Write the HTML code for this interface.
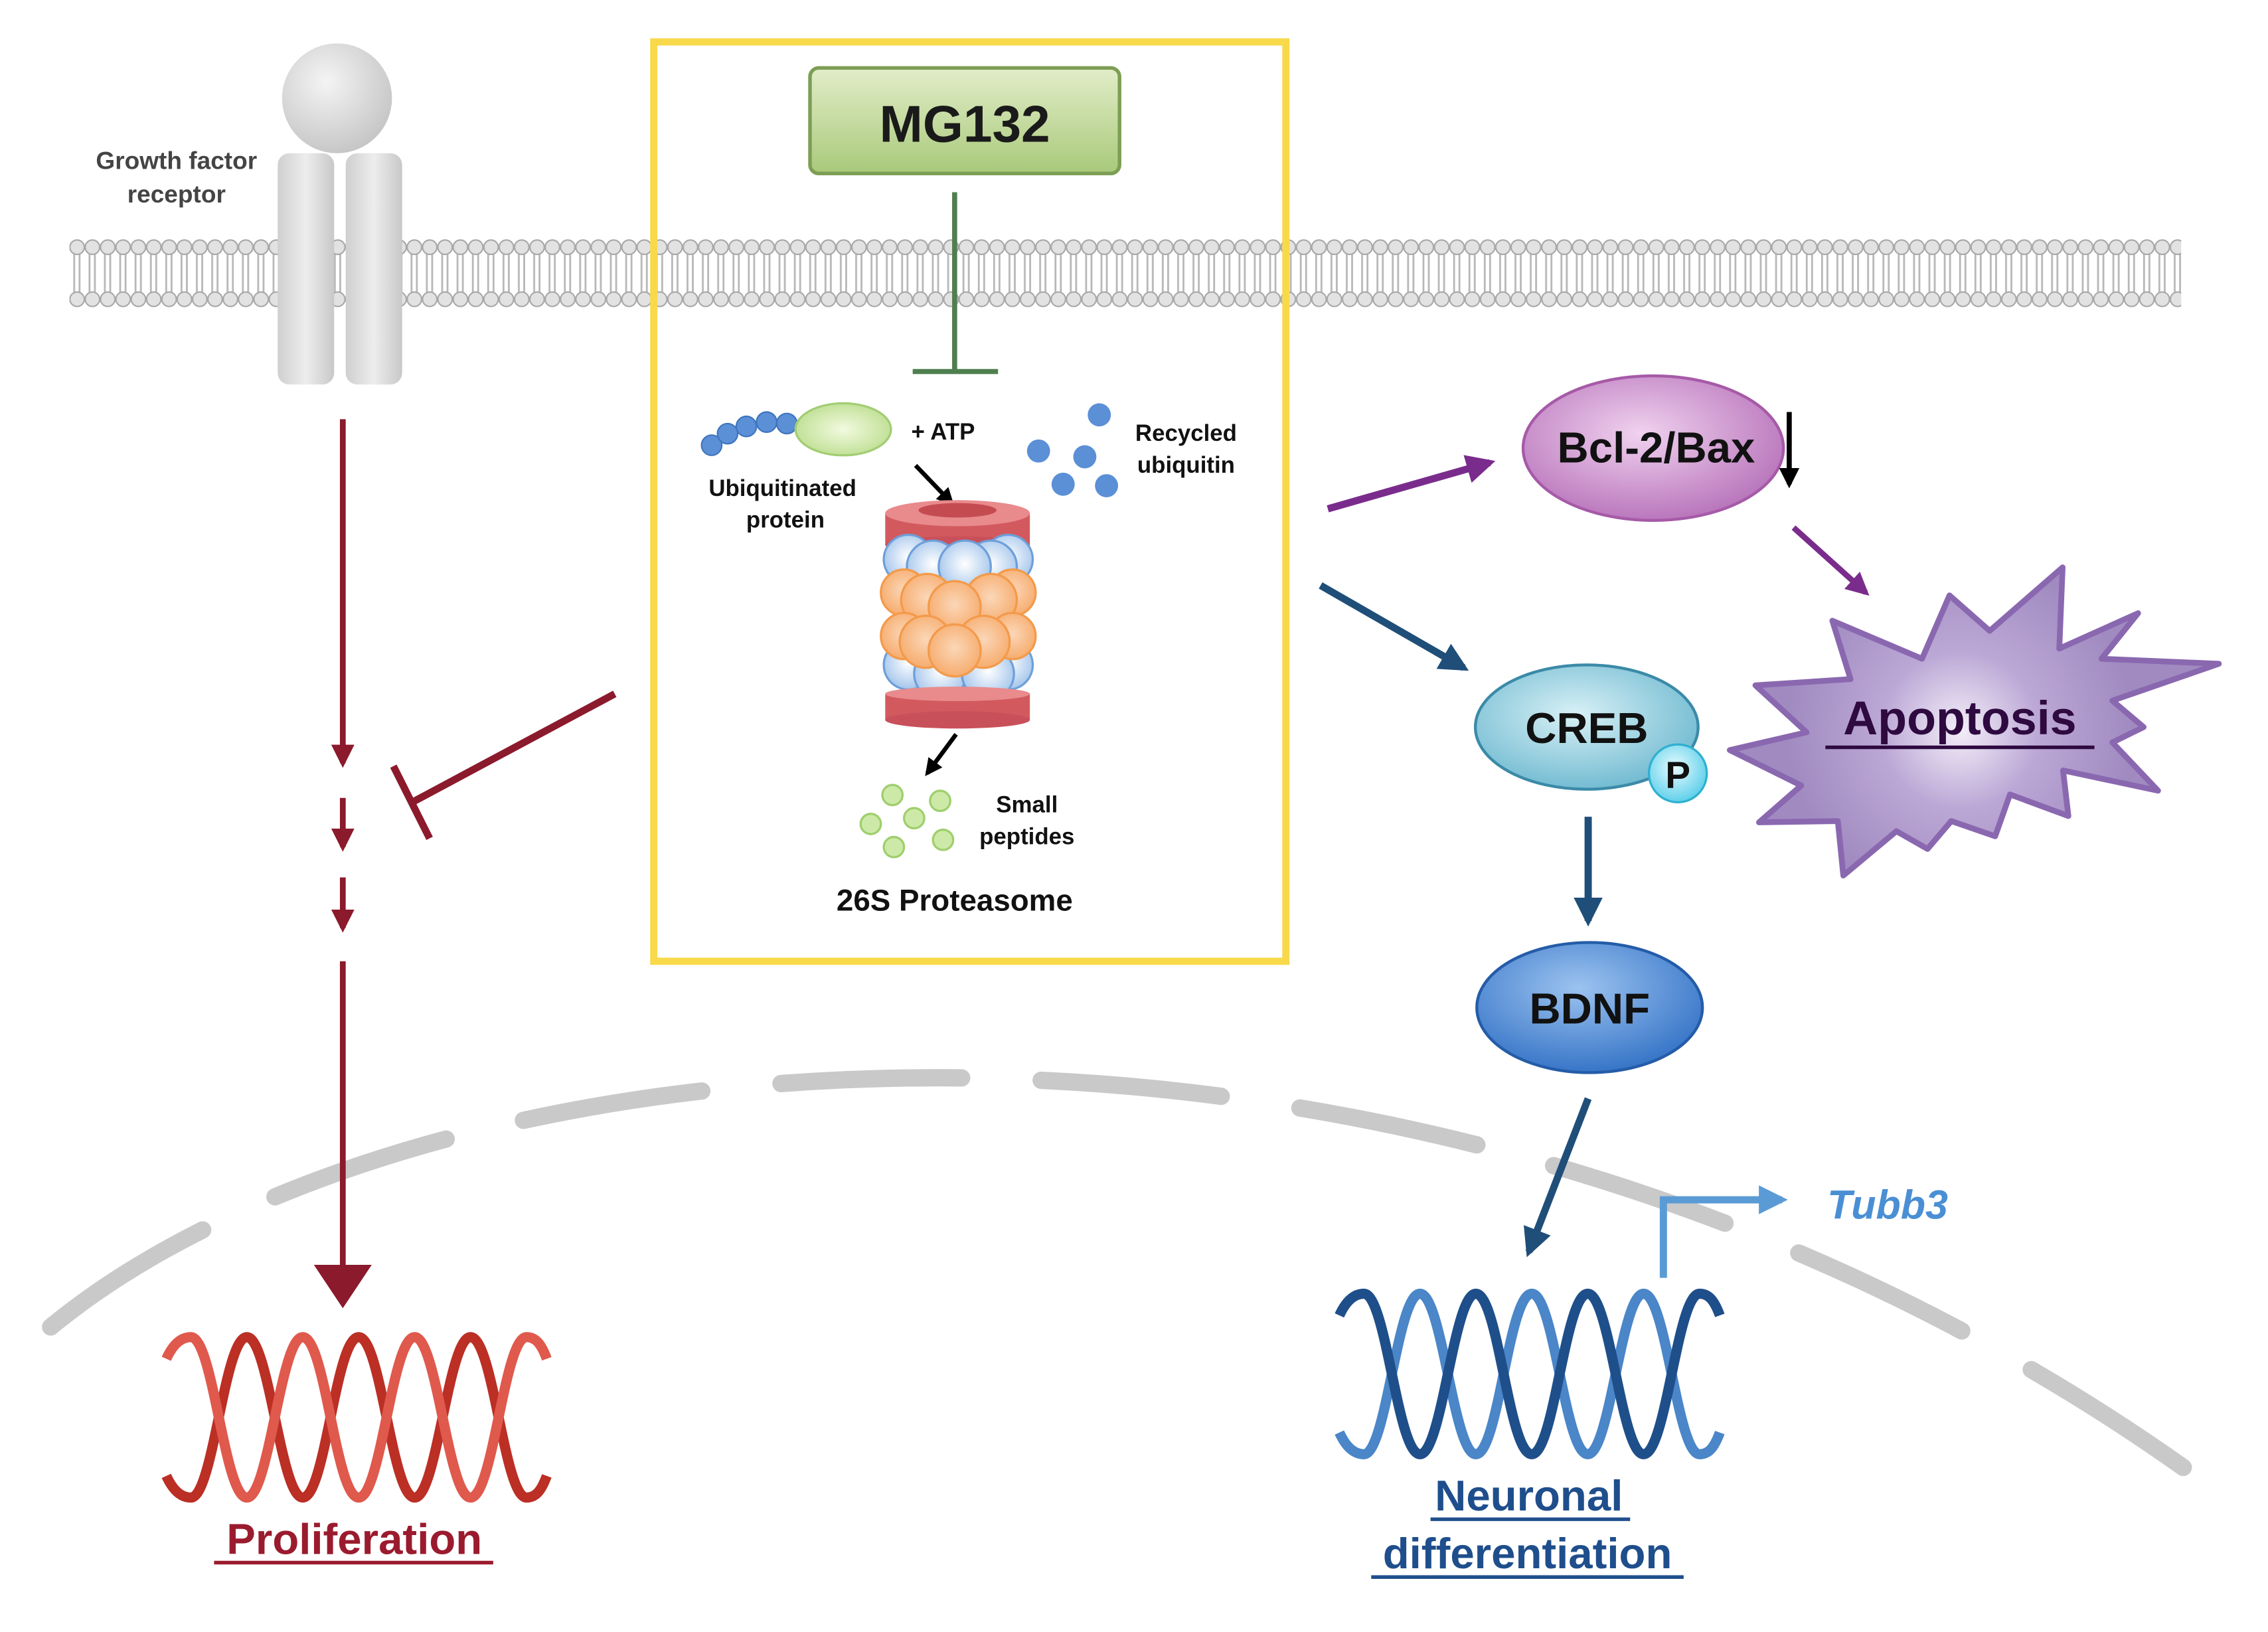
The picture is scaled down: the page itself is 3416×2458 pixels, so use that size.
<!DOCTYPE html>
<html><head><meta charset="utf-8"><style>
html,body{margin:0;padding:0;background:#fff;}
svg{display:block;}
text{font-family:"Liberation Sans",sans-serif;font-weight:bold;}
</style></head><body>
<svg width="3416" height="2458" viewBox="0 0 1568 1129" preserveAspectRatio="none" xmlns="http://www.w3.org/2000/svg">
<defs>
<radialGradient id="gray" cx="40%" cy="35%" r="70%"><stop offset="0" stop-color="#f4f4f4"/><stop offset="1" stop-color="#c4c4c4"/></radialGradient>
<linearGradient id="grayv" x1="0" x2="1"><stop offset="0" stop-color="#cfcfcf"/><stop offset=".5" stop-color="#ededed"/><stop offset="1" stop-color="#c8c8c8"/></linearGradient>
<linearGradient id="green" x1="0" y1="0" x2="0" y2="1"><stop offset="0" stop-color="#e2edc8"/><stop offset="1" stop-color="#a9c97a"/></linearGradient>
<radialGradient id="blueb" cx="50%" cy="45%" r="60%"><stop offset="0" stop-color="#ffffff"/><stop offset="1" stop-color="#9cc0ea"/></radialGradient>
<radialGradient id="orb" cx="50%" cy="45%" r="60%"><stop offset="0" stop-color="#fbd7b8"/><stop offset="1" stop-color="#f6a867"/></radialGradient>
<radialGradient id="gell" cx="50%" cy="50%" r="60%"><stop offset="0" stop-color="#f2fae0"/><stop offset="1" stop-color="#b9dc8a"/></radialGradient>
<radialGradient id="purp" cx="45%" cy="40%" r="65%"><stop offset="0" stop-color="#f0d2ef"/><stop offset="1" stop-color="#b56fb8"/></radialGradient>
<radialGradient id="creb" cx="45%" cy="40%" r="65%"><stop offset="0" stop-color="#d8f1f6"/><stop offset="1" stop-color="#6bb7cf"/></radialGradient>
<radialGradient id="bdnf" cx="45%" cy="35%" r="70%"><stop offset="0" stop-color="#9cc3f0"/><stop offset="1" stop-color="#2f6fc4"/></radialGradient>
<radialGradient id="pc" cx="45%" cy="40%" r="60%"><stop offset="0" stop-color="#e8fbff"/><stop offset="1" stop-color="#5fd0ea"/></radialGradient>
<radialGradient id="star" cx="1355" cy="505" r="120" gradientUnits="userSpaceOnUse"><stop offset="0" stop-color="#f3eef8"/><stop offset=".45" stop-color="#bca8d6"/><stop offset="1" stop-color="#a08ac0"/></radialGradient>
<pattern id="lip" x="48" y="0" width="10.6" height="1129" patternUnits="userSpaceOnUse">
<line x1="3.3" y1="174" x2="3.3" y2="204" stroke="#b8b8b8" stroke-width="1.3"/>
<line x1="7" y1="174" x2="7" y2="204" stroke="#b8b8b8" stroke-width="1.3"/>
<circle cx="5.3" cy="171" r="5" fill="#e2e2e2" stroke="#a8a8a8" stroke-width="1"/>
<circle cx="5.3" cy="207" r="5" fill="#e2e2e2" stroke="#a8a8a8" stroke-width="1"/>
</pattern>
<marker id="ar" viewBox="0 0 10 10" refX="8" refY="5" markerWidth="4" markerHeight="4" orient="auto"><path d="M0,0 L10,5 L0,10 z" fill="context-stroke"/></marker>
</defs>

<path d="M35,918 C300,700 1000,640 1530,1030" fill="none" stroke="#c9c9c9" stroke-width="12" stroke-linecap="round" stroke-dasharray="125 55"/>

<rect x="48" y="160" width="1460" height="56" fill="url(#lip)"/>

<circle cx="233" cy="68" r="38" fill="url(#gray)"/>
<rect x="192" y="106" width="39" height="160" rx="8" fill="url(#grayv)"/>
<rect x="239" y="106" width="39" height="160" rx="8" fill="url(#grayv)"/>
<text x="122" y="117" font-size="17" fill="#444" text-anchor="middle">Growth factor</text>
<text x="122" y="140" font-size="17" fill="#444" text-anchor="middle">receptor</text>

<rect x="452" y="29" width="437" height="636" fill="none" stroke="#f8d94a" stroke-width="5"/>
<rect x="560" y="47" width="214" height="73" rx="6" fill="url(#green)" stroke="#7d9e55" stroke-width="2.5"/>
<text x="667" y="98" font-size="36" text-anchor="middle" fill="#1a1a1a">MG132</text>
<line x1="660" y1="133" x2="660" y2="257" stroke="#4f7f4f" stroke-width="3.5"/>
<line x1="631" y1="257" x2="690" y2="257" stroke="#4f7f4f" stroke-width="3.5"/>

<g fill="#5b8fd6" stroke="#3f74bf" stroke-width="1">
<circle cx="492" cy="308" r="7"/><circle cx="503" cy="300" r="7"/><circle cx="516" cy="295" r="7"/><circle cx="530" cy="292" r="7"/><circle cx="544" cy="293" r="7"/>
</g>
<ellipse cx="583" cy="297" rx="33" ry="18" fill="url(#gell)" stroke="#a2cd73" stroke-width="1.5"/>
<text x="652" y="304" font-size="16" text-anchor="middle" fill="#111">+ ATP</text>
<text x="541" y="343" font-size="16" text-anchor="middle" fill="#111">Ubiquitinated</text>
<text x="543" y="365" font-size="16" text-anchor="middle" fill="#111">protein</text>
<line x1="633" y1="322" x2="658" y2="348" stroke="#000" stroke-width="3" marker-end="url(#ar)"/>
<g fill="#5b8fd6">
<circle cx="760" cy="287" r="8"/><circle cx="718" cy="312" r="8"/><circle cx="750" cy="316" r="8"/><circle cx="735" cy="335" r="8"/><circle cx="765" cy="336" r="8"/>
</g>
<text x="820" y="305" font-size="16" text-anchor="middle" fill="#111">Recycled</text>
<text x="820" y="327" font-size="16" text-anchor="middle" fill="#111">ubiquitin</text>

<rect x="612" y="355" width="100" height="22" fill="#d25a5e"/>
<ellipse cx="662" cy="355" rx="50" ry="9" fill="#e98a8c"/>
<ellipse cx="662" cy="353" rx="27" ry="5" fill="#c44c51"/>
<ellipse cx="662" cy="377" rx="50" ry="6" fill="#c8505a"/>
<g stroke="#6d9fda" stroke-width="1.5" fill="url(#blueb)">
<circle cx="628" cy="387" r="17"/><circle cx="697" cy="387" r="17"/><circle cx="645" cy="392" r="18"/><circle cx="685" cy="392" r="18"/><circle cx="667" cy="392" r="18"/>
<circle cx="628" cy="460" r="17"/><circle cx="697" cy="460" r="17"/><circle cx="650" cy="466" r="18"/><circle cx="683" cy="466" r="18"/>
</g>
<g stroke="#f39a4a" stroke-width="1.5" fill="url(#orb)">
<circle cx="625" cy="410" r="16"/><circle cx="700" cy="410" r="16"/><circle cx="641" cy="415" r="18"/><circle cx="685" cy="415" r="18"/><circle cx="660" cy="420" r="18"/>
<circle cx="625" cy="440" r="16"/><circle cx="700" cy="440" r="16"/><circle cx="640" cy="444" r="18"/><circle cx="680" cy="444" r="18"/><circle cx="660" cy="450" r="18"/>
</g>
<rect x="612" y="480" width="100" height="18" fill="#d25a5e"/>
<ellipse cx="662" cy="480" rx="50" ry="5" fill="#e98a8c"/>
<ellipse cx="662" cy="498" rx="50" ry="6" fill="#c8505a"/>
<line x1="661" y1="508" x2="641" y2="535" stroke="#000" stroke-width="3" marker-end="url(#ar)"/>
<g fill="#cde9a8" stroke="#9fcf6d" stroke-width="1.5">
<circle cx="617" cy="550" r="7"/><circle cx="650" cy="554" r="7"/><circle cx="602" cy="570" r="7"/><circle cx="632" cy="566" r="7"/><circle cx="618" cy="586" r="7"/><circle cx="652" cy="581" r="7"/>
</g>
<text x="710" y="562" font-size="16" text-anchor="middle" fill="#111">Small</text>
<text x="710" y="584" font-size="16" text-anchor="middle" fill="#111">peptides</text>
<text x="660" y="630" font-size="21" text-anchor="middle" fill="#111">26S Proteasome</text>

<g stroke="#8b1a2c" stroke-width="4" fill="none">
<line x1="237" y1="290" x2="237" y2="528" marker-end="url(#ar)"/>
<line x1="237" y1="552" x2="237" y2="586" marker-end="url(#ar)"/>
<line x1="237" y1="607" x2="237" y2="642" marker-end="url(#ar)"/>
<line x1="237" y1="665" x2="237" y2="880"/>
<line x1="425" y1="480" x2="285" y2="555" stroke-width="5"/>
<line x1="272" y1="530" x2="297" y2="580" stroke-width="5"/>
</g>
<path d="M217,875 L257,875 L237,905 z" fill="#8b1a2c"/>

<g fill="none" stroke-width="7" transform="translate(2,7)">
<path d="M113,1014 C118,1025 124,1029 130,1029 C145.5,1029 153,918 168.7,918 C184,918 192,1029 207.3,1029 C223,1029 230,918 246,918 C261.5,918 269,1029 284.7,1029 C300,1029 308,918 323.3,918 C339,918 346.5,1029 362,1029 C368,1029 372,1025 376,1014" stroke="#bb2f25"/>
<path d="M113,933 C118,922 124,918 130,918 C145.5,918 153,1029 168.7,1029 C184,1029 192,918 207.3,918 C223,918 230,1029 246,1029 C261.5,1029 269,918 284.7,918 C300,918 308,1029 323.3,1029 C339,1029 346.5,918 362,918 C368,918 372,922 376,933" stroke="#e0594d"/>
</g>
<text x="245" y="1075" font-size="30" text-anchor="middle" fill="#9b1b2e">Proliferation</text>
<line x1="148" y1="1081" x2="341" y2="1081" stroke="#9b1b2e" stroke-width="2.5"/>

<line x1="918" y1="352" x2="1030" y2="320" stroke="#7a2c8c" stroke-width="5" marker-end="url(#ar)"/>
<ellipse cx="1143" cy="310" rx="90" ry="50" fill="url(#purp)" stroke="#a65aa8" stroke-width="2"/>
<text x="1145" y="320" font-size="30" text-anchor="middle" fill="#111">Bcl-2/Bax</text>
<line x1="1237" y1="285" x2="1237" y2="335" stroke="#000" stroke-width="3.5" marker-end="url(#ar)"/>
<line x1="1240" y1="365" x2="1290" y2="410" stroke="#7a2c8c" stroke-width="4" marker-end="url(#ar)"/>

<polygon points="1426,392.5 1375.6,436.4 1347.8,411.9 1328.8,455.7 1266.8,429.4 1279.4,469.8 1213.6,474.1 1249,506.6 1195.9,518.9 1245.3,543.4 1216.1,568.9 1270.6,568 1274.4,605.7 1311.1,575 1332.6,587.3 1349,568 1379.4,578.5 1389.6,549.6 1430,564.5 1426.3,533 1492,547 1460.4,513.6 1482,503 1460.4,484.7 1534,459.2 1452.9,455.7 1478.2,424.2 1423.7,448.7" fill="url(#star)" stroke="#8a68b0" stroke-width="4" stroke-linejoin="round"/>
<text x="1355" y="508" font-size="33" text-anchor="middle" fill="#2e0a40">Apoptosis</text>
<line x1="1262" y1="517" x2="1448" y2="517" stroke="#2e0a40" stroke-width="2.5"/>

<line x1="913" y1="405" x2="1012" y2="462" stroke="#1f4e79" stroke-width="5" marker-end="url(#ar)"/>
<ellipse cx="1097" cy="503" rx="77" ry="43" fill="url(#creb)" stroke="#3b8aa8" stroke-width="2"/>
<text x="1097" y="514" font-size="30" text-anchor="middle" fill="#111">CREB</text>
<circle cx="1160" cy="535" r="20" fill="url(#pc)" stroke="#2fb0d0" stroke-width="1.5"/>
<text x="1160" y="545" font-size="26" text-anchor="middle" fill="#111">P</text>
<line x1="1098" y1="565" x2="1098" y2="637" stroke="#1f4e79" stroke-width="5" marker-end="url(#ar)"/>
<ellipse cx="1099" cy="697" rx="78" ry="45" fill="url(#bdnf)" stroke="#245ca8" stroke-width="2"/>
<text x="1099" y="708" font-size="30" text-anchor="middle" fill="#111">BDNF</text>
<line x1="1098" y1="760" x2="1057" y2="866" stroke="#1f4e79" stroke-width="5" marker-end="url(#ar)"/>

<g fill="none" stroke-width="7" transform="translate(813,-23)">
<path d="M113,1014 C118,1025 124,1029 130,1029 C145.5,1029 153,918 168.7,918 C184,918 192,1029 207.3,1029 C223,1029 230,918 246,918 C261.5,918 269,1029 284.7,1029 C300,1029 308,918 323.3,918 C339,918 346.5,1029 362,1029 C368,1029 372,1025 376,1014" stroke="#4a86c8"/>
<path d="M113,933 C118,922 124,918 130,918 C145.5,918 153,1029 168.7,1029 C184,1029 192,918 207.3,918 C223,918 230,1029 246,1029 C261.5,1029 269,918 284.7,918 C300,918 308,1029 323.3,1029 C339,1029 346.5,918 362,918 C368,918 372,922 376,933" stroke="#1f4f8a"/>
</g>
<path d="M1150,884 L1150,830 L1232,830" fill="none" stroke="#5b9bd5" stroke-width="5" marker-end="url(#ar)"/>
<text x="1305" y="843" font-size="28" font-style="italic" text-anchor="middle" fill="#4a8fd4">Tubb3</text>
<text x="1057" y="1045" font-size="30" text-anchor="middle" fill="#1f4e8c">Neuronal</text>
<line x1="989" y1="1051" x2="1127" y2="1051" stroke="#1f4e8c" stroke-width="2.5"/>
<text x="1056" y="1085" font-size="30" text-anchor="middle" fill="#1f4e8c">differentiation</text>
<line x1="948" y1="1091" x2="1164" y2="1091" stroke="#1f4e8c" stroke-width="2.5"/>
</svg>
</body></html>
